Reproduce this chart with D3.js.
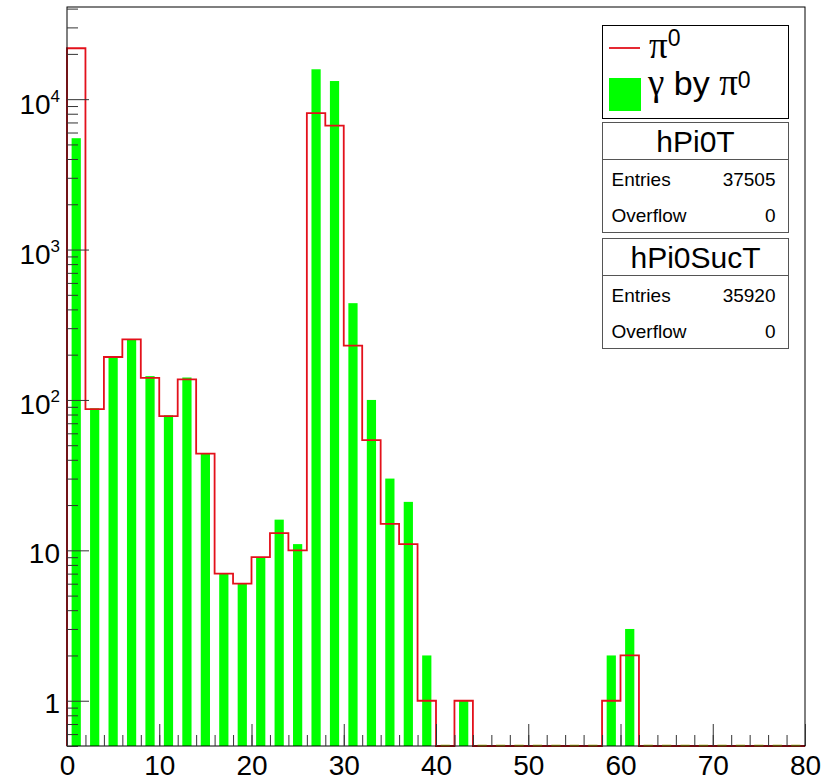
<!DOCTYPE html>
<html>
  <head>
    <meta charset="UTF-8">
    <title>hPi0T</title>
    <style>
      body { margin: 0; background-color: #ffffff; }
      #chart svg { display: block; }
      text { font-family: "Liberation Sans", Arial, sans-serif; fill: #000; }
      .greek { font-family: "Liberation Serif", "DejaVu Serif", serif; }
    </style>
  </head>
  <body>
    <div id="chart"></div>
    <script src="https://d3js.org/d3.v7.min.js"></script>
    <script>
      // histogram binning: 40 bins over [0, 80]
      const nBins = 40, xMin = 0, xMax = 80;

      // pi0 counts per bin (red outline)
      const pi0Counts = [21800, 87, 193, 253, 140, 78, 137, 44, 7, 6,
                         9, 13, 10, 8070, 6670, 230, 54, 15, 11, 1,
                         0, 1, 0, 0, 0, 0, 0, 0, 0, 1,
                         2, 0, 0, 0, 0, 0, 0, 0, 0, 0];
      // gamma by pi0 counts per bin (green bars)
      const gammaCounts = [5500, 88, 192, 253, 144, 79, 141, 44, 7, 6,
                           9, 16, 11, 15800, 13200, 440, 100, 30, 21, 2,
                           0, 1, 0, 0, 0, 0, 0, 0, 0, 2,
                           3, 0, 0, 0, 0, 0, 0, 0, 0, 0];

      const xTicks = [0, 10, 20, 30, 40, 50, 60, 70, 80];
      const yTicks = [1, 10, 100, 1000, 10000];
      const yTickLabels = [["1", ""], ["10", ""], ["10", "2"], ["10", "3"], ["10", "4"]];

      const stats = [
        {name: "hPi0T", entries: "37505", overflow: "0"},
        {name: "hPi0SucT", entries: "35920", overflow: "0"}
      ];

      const width = 832, height = 782;
      const mLeft = 67, mRight = 805, mTop = 7, mBottom = 746;
      const yMin = 0.5, yMax = 41000;

      const svg = d3.select("#chart").append("svg")
        .attr("width", width).attr("height", height);

      const x = d3.scaleLinear().domain([xMin, xMax]).range([mLeft, mRight]);
      const y = d3.scaleLog().domain([yMin, yMax]).range([mBottom, mTop]);
      const binW = (xMax - xMin) / nBins;
      const yc = v => y(Math.max(v, yMin));

      // green bars (bar width 0.5, offset 0.25)
      const bars = gammaCounts.map((v, i) => ({lo: xMin + i * binW, v}));
      svg.append("g").selectAll("rect").data(bars.filter(d => d.v > 0)).join("rect")
        .attr("x", d => x(d.lo + 0.25 * binW))
        .attr("width", d => x(d.lo + 0.75 * binW) - x(d.lo + 0.25 * binW))
        .attr("y", d => y(d.v))
        .attr("height", d => mBottom - y(d.v))
        .attr("fill", "#00ff00");

      // red step outline
      const pts = [[xMin, yMin]];
      pi0Counts.forEach((v, i) => {
        pts.push([xMin + i * binW, v]);
        pts.push([xMin + (i + 1) * binW, v]);
      });
      pts.push([xMax, yMin]);
      const line = d3.line().x(d => x(d[0])).y(d => yc(d[1]));
      svg.append("path").attr("d", line(pts))
        .attr("fill", "none").attr("stroke", "#e3111b").attr("stroke-width", 1.8);

      // zero-height green bars show as olive dashes on the bottom line
      svg.append("g").selectAll("line").data(bars.filter(d => d.v <= 0)).join("line")
        .attr("x1", d => x(d.lo + 0.25 * binW)).attr("x2", d => x(d.lo + 0.75 * binW))
        .attr("y1", mBottom - 0.5).attr("y2", mBottom - 0.5)
        .attr("stroke", "#b4a818").attr("stroke-width", 1.6);

      // frame
      svg.append("rect").attr("x", mLeft).attr("y", mTop)
        .attr("width", mRight - mLeft).attr("height", mBottom - mTop)
        .attr("fill", "none").attr("stroke", "#000").attr("stroke-width", 1);

      // x axis: minor ticks every bin, major every 10
      const xMinor = d3.range(xMin, xMax + 0.001, binW);
      svg.append("g").attr("transform", `translate(0,${mBottom})`)
        .call(d3.axisBottom(x).tickValues(xMinor).tickSizeInner(-11).tickSizeOuter(0).tickFormat(""))
        .call(g => g.select(".domain").remove())
        .call(g => g.selectAll("line").attr("stroke", "#333"));
      svg.append("g").attr("transform", `translate(0,${mBottom})`)
        .call(d3.axisBottom(x).tickValues(xTicks).tickSizeInner(-22).tickSizeOuter(0).tickFormat(d3.format("d")))
        .call(g => g.select(".domain").remove())
        .call(g => g.selectAll("line").attr("stroke", "#333"))
        .call(g => g.selectAll("text").attr("y", 29).attr("dy", null)
          .attr("font-size", 28).attr("font-family", "Liberation Sans, Arial, sans-serif").attr("fill", "#000"));

      // y axis: minor ticks 2..9 per decade, major at decades
      const yMinor = [];
      for (let e = -1; e <= 4; e++) {
        for (let m = 2; m <= 9; m++) {
          const v = m * Math.pow(10, e);
          if (v >= yMin && v <= yMax) yMinor.push(v);
        }
      }
      svg.append("g").attr("transform", `translate(${mLeft},0)`)
        .call(d3.axisLeft(y).tickValues(yMinor).tickSizeInner(-11).tickSizeOuter(0).tickFormat(""))
        .call(g => g.select(".domain").remove())
        .call(g => g.selectAll("line").attr("stroke", "#333"));
      const yAx = svg.append("g").attr("transform", `translate(${mLeft},0)`)
        .call(d3.axisLeft(y).tickValues(yTicks).tickSizeInner(-22).tickSizeOuter(0).tickPadding(7).tickFormat(""))
        .call(g => g.select(".domain").remove())
        .call(g => g.selectAll("line").attr("stroke", "#333"));
      yAx.selectAll(".tick text").each(function(d) {
        const i = yTicks.indexOf(d);
        const [base, sup] = yTickLabels[i];
        const t = d3.select(this).attr("dy", null).attr("y", sup ? 14 : 12)
          .attr("font-size", 28).attr("fill", "#000")
          .attr("font-family", "Liberation Sans, Arial, sans-serif");
        t.append("tspan").text(base);
        if (sup) t.append("tspan").attr("font-size", 17).attr("dy", -12).text(sup);
      });

      // legend
      const lg = svg.append("g");
      lg.append("rect").attr("x", 602.5).attr("y", 25.5).attr("width", 186).attr("height", 93)
        .attr("fill", "#fff").attr("stroke", "#000").attr("stroke-width", 1);
      lg.append("line").attr("x1", 609).attr("x2", 640).attr("y1", 48).attr("y2", 48)
        .attr("stroke", "#e3111b").attr("stroke-width", 1.8);
      const l1 = lg.append("text").attr("x", 649).attr("y", 58).attr("font-size", 23);
      l1.append("tspan").attr("class", "greek").attr("font-size", 37).text("π");
      l1.append("tspan").attr("dy", -12).text("0");
      lg.append("rect").attr("x", 609).attr("y", 78).attr("width", 32).attr("height", 33)
        .attr("fill", "#00ff00");
      const l2 = lg.append("text").attr("x", 648).attr("y", 95).attr("font-size", 34);
      l2.append("tspan").attr("class", "greek").attr("font-size", 37).text("γ");
      l2.append("tspan").text(" by ");
      l2.append("tspan").attr("class", "greek").attr("font-size", 37).text("π");
      l2.append("tspan").attr("font-size", 23).attr("dy", -7).text("0");

      // stats boxes
      const boxTops = [122.5, 238.5];
      stats.forEach((s, k) => {
        const g = svg.append("g").attr("transform", `translate(602.5,${boxTops[k]})`);
        g.append("rect").attr("width", 186).attr("height", 110)
          .attr("fill", "#fff").attr("stroke", "#555").attr("stroke-width", 1);
        g.append("line").attr("x1", 0).attr("x2", 186).attr("y1", 37).attr("y2", 37)
          .attr("stroke", "#555").attr("stroke-width", 1);
        g.append("text").attr("x", 93).attr("y", 29).attr("text-anchor", "middle")
          .attr("font-size", 30).text(s.name);
        g.append("text").attr("x", 9).attr("y", 63).attr("font-size", 19).text("Entries");
        g.append("text").attr("x", 173).attr("y", 63).attr("text-anchor", "end").attr("font-size", 19).text(s.entries);
        g.append("text").attr("x", 9).attr("y", 99).attr("font-size", 19).text("Overflow");
        g.append("text").attr("x", 173).attr("y", 99).attr("text-anchor", "end").attr("font-size", 19).text(s.overflow);
      });
    </script>
  </body>
</html>
